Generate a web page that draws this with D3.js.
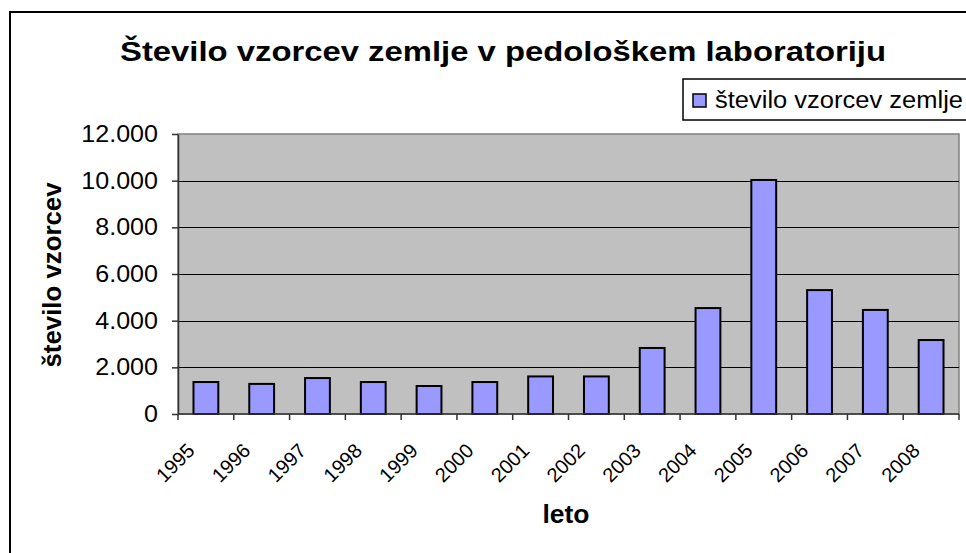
<!DOCTYPE html>
<html>
<head>
<meta charset="utf-8">
<script src="https://cdn.jsdelivr.net/npm/d3@7"></script>
<style>
  body { margin: 0; background: #fff; }
  svg { display: block; font-family: "Liberation Sans", Arial, sans-serif; }
</style>
</head>
<body>
<div id="chart"></div>
<script>
// data
var years = ["1995", "1996", "1997", "1998", "1999", "2000", "2001",
             "2002", "2003", "2004", "2005", "2006", "2007", "2008"];
var samples = [1370, 1290, 1540, 1370, 1200, 1370, 1610,
               1610, 2830, 4540, 10030, 5310, 4460, 3170];
var yTicks = [0, 2000, 4000, 6000, 8000, 10000, 12000];

var svgWidth = 966;
var svgHeight = 553;

// plot area
var margin = { top: 134, right: 7, bottom: 139, left: 178 };
var width = svgWidth - margin.left - margin.right;
var height = svgHeight - margin.top - margin.bottom;

var svg = d3.select("#chart")
  .append("svg")
  .attr("width", svgWidth)
  .attr("height", svgHeight);

// stretch text a bit wider, like the original picture
function widen(sel, factor) {
  sel.each(function() {
    var w = this.getComputedTextLength();
    d3.select(this)
      .attr("textLength", w * factor)
      .attr("lengthAdjust", "spacingAndGlyphs");
  });
}

// outer chart frame (runs off the page on right/bottom)
svg.append("rect")
  .attr("x", 10).attr("y", 12)
  .attr("width", 1000).attr("height", 600)
  .attr("fill", "none")
  .attr("stroke", "#000")
  .attr("stroke-width", 2);

// title
svg.append("text")
  .attr("x", 503)
  .attr("y", 61)
  .attr("text-anchor", "middle")
  .attr("font-size", "28px")
  .attr("font-weight", "bold")
  .attr("textLength", 766)
  .attr("lengthAdjust", "spacingAndGlyphs")
  .text("Število vzorcev zemlje v pedološkem laboratoriju");

var chartGroup = svg.append("g")
  .attr("transform", `translate(${margin.left}, ${margin.top})`);

var xScale = d3.scaleBand()
  .domain(years)
  .range([0, width])
  .paddingInner(0.555)
  .paddingOuter(0.2775);

var yScale = d3.scaleLinear()
  .domain([0, 12000])
  .range([height, 0]);

// plot background
chartGroup.append("rect")
  .attr("width", width)
  .attr("height", height)
  .attr("fill", "#c0c0c0")
  .attr("stroke", "#808080")
  .attr("stroke-width", 1.5);

// gridlines
chartGroup.selectAll(".grid")
  .data(yTicks.filter(d => d > 0 && d < 12000))
  .enter()
  .append("line")
  .attr("x1", 0)
  .attr("x2", width)
  .attr("y1", d => Math.round(yScale(d)) + 0.5)
  .attr("y2", d => Math.round(yScale(d)) + 0.5)
  .attr("stroke", "#000")
  .attr("stroke-width", 1);

// bars
chartGroup.selectAll(".bar")
  .data(samples)
  .enter()
  .append("rect")
  .attr("x", (d, i) => xScale(years[i]))
  .attr("y", d => yScale(d))
  .attr("width", xScale.bandwidth())
  .attr("height", d => height - yScale(d))
  .attr("fill", "#9999ff")
  .attr("stroke", "#000")
  .attr("stroke-width", 2);

// y axis
var fmt = d => d === 0 ? "0" : d3.format(",")(d).replace(/,/g, ".");
var leftAxis = d3.axisLeft(yScale)
  .tickValues(yTicks)
  .tickFormat(fmt)
  .tickSize(6)
  .tickSizeOuter(0)
  .tickPadding(14);

var yAxis = chartGroup.append("g").call(leftAxis);
yAxis.select(".domain").attr("stroke", "#333").attr("stroke-width", 1.5);
yAxis.selectAll(".tick line").attr("stroke", "#333").attr("stroke-width", 1.5);
yAxis.selectAll("text")
  .attr("font-family", "Liberation Sans, Arial, sans-serif")
  .attr("font-size", "23px")
  .attr("fill", "#000")
  .call(widen, 1.09);

// x axis: ticks at category boundaries
var step = xScale.step();
var xBounds = d3.range(years.length + 1).map(i => i * step);
var xAxis = chartGroup.append("g")
  .attr("transform", `translate(0, ${height})`);
xAxis.append("line")
  .attr("x1", 0).attr("x2", width)
  .attr("stroke", "#333")
  .attr("stroke-width", 1.5);
xAxis.selectAll(".xtick")
  .data(xBounds)
  .enter()
  .append("line")
  .attr("x1", d => d).attr("x2", d => d)
  .attr("y1", 0).attr("y2", 6)
  .attr("stroke", "#333")
  .attr("stroke-width", 1.5);

xAxis.selectAll(".xlabel")
  .data(years)
  .enter()
  .append("text")
  .attr("transform", d => `translate(${xScale(d) + xScale.bandwidth() / 2 - 10}, 38) rotate(-45)`)
  .attr("text-anchor", "end")
  .attr("font-size", "20px")
  .text(d => d);

// axis titles
svg.append("text")
  .attr("transform", `translate(61, 275) rotate(-90)`)
  .attr("text-anchor", "middle")
  .attr("font-size", "25px")
  .attr("font-weight", "bold")
  .attr("textLength", 185)
  .attr("lengthAdjust", "spacingAndGlyphs")
  .text("število vzorcev");

svg.append("text")
  .attr("x", 566)
  .attr("y", 523)
  .attr("text-anchor", "middle")
  .attr("font-size", "25px")
  .attr("font-weight", "bold")
  .attr("textLength", 47)
  .attr("lengthAdjust", "spacingAndGlyphs")
  .text("leto");

// legend
var legend = svg.append("g").attr("transform", "translate(683, 79)");
legend.append("rect")
  .attr("width", 400)
  .attr("height", 41)
  .attr("fill", "#fff")
  .attr("stroke", "#000")
  .attr("stroke-width", 1.5);
legend.append("rect")
  .attr("x", 10).attr("y", 15)
  .attr("width", 13).attr("height", 13)
  .attr("fill", "#9999ff")
  .attr("stroke", "#000")
  .attr("stroke-width", 1.5);
legend.append("text")
  .attr("x", 32)
  .attr("y", 29)
  .attr("font-size", "23px")
  .attr("textLength", 248)
  .attr("lengthAdjust", "spacingAndGlyphs")
  .text("število vzorcev zemlje");
</script>
</body>
</html>
